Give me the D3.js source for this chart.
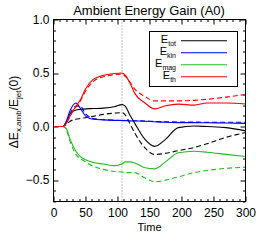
<!DOCTYPE html>
<html>
<head>
<meta charset="utf-8">
<script src="https://cdn.jsdelivr.net/npm/d3@7"></script>
<style>
  body { margin: 0; background: #fff; }
  svg { display: block; font-family: "Liberation Sans", Arial, sans-serif; }
</style>
</head>
<body>
<div id="chart"></div>
<script>
// time samples (shared by all curves)
const time = [0, 15, 20, 26, 35, 42, 50, 62, 78, 95, 107, 112, 120, 127, 143, 158, 175, 195, 220, 240, 270, 300];

const totSolid = [0, 0, 0.04, 0.12, 0.155, 0.16, 0.165, 0.168, 0.172, 0.185, 0.205, 0.19, 0.1, 0.03, -0.12, -0.185, -0.12, -0.01, 0.005, 0.0, -0.01, -0.04];
const totDash  = [0, 0, 0.02, 0.05, 0.068, 0.075, 0.083, 0.095, 0.114, 0.125, 0.13, 0.11, 0.02, -0.06, -0.2, -0.26, -0.25, -0.225, -0.195, -0.16, -0.1, -0.056];
const kinSolid = [0, 0, 0.05, 0.15, 0.22, 0.17, 0.1, 0.068, 0.062, 0.058, 0.056, 0.055, 0.053, 0.052, 0.05, 0.045, 0.04, 0.037, 0.037, 0.035, 0.033, 0.03];
const kinDash  = [0, 0, 0.04, 0.12, 0.19, 0.19, 0.12, 0.075, 0.065, 0.06, 0.058, 0.057, 0.055, 0.054, 0.052, 0.048, 0.045, 0.043, 0.042, 0.04, 0.04, 0.04];
const magSolid = [0, 0, -0.02, -0.12, -0.23, -0.28, -0.31, -0.335, -0.35, -0.365, -0.35, -0.33, -0.33, -0.34, -0.385, -0.395, -0.33, -0.245, -0.23, -0.24, -0.26, -0.28];
const magDash  = [0, 0, -0.03, -0.14, -0.26, -0.3, -0.33, -0.37, -0.4, -0.42, -0.425, -0.43, -0.43, -0.43, -0.48, -0.515, -0.5, -0.47, -0.43, -0.41, -0.39, -0.38];
const thSolid  = [0, 0, 0.03, 0.1, 0.19, 0.25, 0.35, 0.44, 0.48, 0.495, 0.5, 0.48, 0.4, 0.31, 0.22, 0.165, 0.195, 0.21, 0.2, 0.22, 0.22, 0.21];
const thDash   = [0, 0, 0.03, 0.1, 0.18, 0.24, 0.33, 0.42, 0.465, 0.485, 0.49, 0.47, 0.41, 0.35, 0.28, 0.24, 0.24, 0.24, 0.245, 0.255, 0.275, 0.3];

const legendNames = ['tot', 'kin', 'mag', 'th'];
const colors = ['#000000', '#0000ff', '#22bb22', '#ff0000'];
const xTicks = [0, 50, 100, 150, 200, 250, 300];
const yTicks = [-0.5, 0.0, 0.5, 1.0];
const markerTime = 107;

const width = 266, height = 247;
const margin = { top: 19.5, right: 20.5, bottom: 45.5, left: 53.5 };
const iw = width - margin.left - margin.right;
const ih = height - margin.top - margin.bottom;

const svg = d3.select('#chart').append('svg')
  .attr('width', width)
  .attr('height', height);

const g = svg.append('g').attr('transform', `translate(${margin.left},${margin.top})`);

const x = d3.scaleLinear().domain([0, 300]).range([0, iw]);
const y = d3.scaleLinear().domain([-0.7, 1.0]).range([ih, 0]);

// minor + major ticks on all four sides, pointing inward
const xMinor = d3.range(0, 301, 10);
const yMinor = d3.range(-0.7, 1.001, 0.1).map(v => +v.toFixed(2));
const isMajX = v => v % 50 === 0;
const isMajY = v => Math.abs(v * 2 - Math.round(v * 2)) < 1e-6;

const ticks = g.append('g').attr('stroke', '#000').attr('stroke-width', 1);
xMinor.forEach(v => {
  const len = isMajX(v) ? 5 : 2.5;
  const px = Math.round(x(v)) + 0.5;
  ticks.append('line').attr('x1', px).attr('x2', px).attr('y1', ih).attr('y2', ih - len);
  ticks.append('line').attr('x1', px).attr('x2', px).attr('y1', 0).attr('y2', len);
});
yMinor.forEach(v => {
  const len = isMajY(v) ? 5 : 2.5;
  const py = Math.round(y(v)) + 0.5;
  ticks.append('line').attr('y1', py).attr('y2', py).attr('x1', 0).attr('x2', len);
  ticks.append('line').attr('y1', py).attr('y2', py).attr('x1', iw).attr('x2', iw - len);
});

// tick labels through axes
const xAxis = g.append('g').attr('transform', `translate(0,${ih})`)
  .call(d3.axisBottom(x).tickValues(xTicks).tickSize(0).tickPadding(7).tickFormat(d3.format('d')));
const yAxis = g.append('g')
  .call(d3.axisLeft(y).tickValues(yTicks).tickSize(0).tickPadding(4).tickFormat(d => d3.format('.1f')(d)));
[xAxis, yAxis].forEach(a => {
  a.select('.domain').remove();
  a.selectAll('text').attr('font-size', 12).attr('fill', '#000').attr('font-family', '"Liberation Sans", Arial, sans-serif');
});

// dotted marker
g.append('line')
  .attr('x1', Math.round(x(markerTime)) + 0.5).attr('x2', Math.round(x(markerTime)) + 0.5)
  .attr('y1', 0).attr('y2', ih)
  .attr('stroke', '#888').attr('stroke-width', 1).attr('stroke-dasharray', '1,2');

// curves
const series = [
  { v: totSolid, c: colors[0], dash: null },
  { v: totDash, c: colors[0], dash: '5,3' },
  { v: kinSolid, c: colors[1], dash: null },
  { v: kinDash, c: colors[1], dash: '5,3' },
  { v: magSolid, c: colors[2], dash: null },
  { v: magDash, c: colors[2], dash: '5,3' },
  { v: thSolid, c: colors[3], dash: null },
  { v: thDash, c: colors[3], dash: '5,3' },
];
const line = d3.line().x((d, i) => x(time[i])).y(d => y(d)).curve(d3.curveMonotoneX);
svg.append('clipPath').attr('id', 'clip').append('rect').attr('width', iw).attr('height', ih);
const lines = g.append('g').attr('clip-path', 'url(#clip)');
series.forEach(s => {
  lines.append('path')
    .attr('d', line(s.v))
    .attr('fill', 'none')
    .attr('stroke', s.c)
    .attr('stroke-width', 1.1)
    .attr('stroke-dasharray', s.dash);
});

// frame
g.append('rect').attr('x', 0).attr('y', 0).attr('width', iw).attr('height', ih)
  .attr('fill', 'none').attr('stroke', '#000').attr('stroke-width', 1);

// legend
const lg = svg.append('g');
lg.append('rect').attr('x', 149.5).attr('y', 31.5).attr('width', 88).attr('height', 55)
  .attr('fill', '#fff').attr('stroke', '#000').attr('stroke-width', 1);
legendNames.forEach((n, i) => {
  const ly = 40.7 + i * 12;
  lg.append('line').attr('x1', 181).attr('x2', 227).attr('y1', ly).attr('y2', ly)
    .attr('stroke', colors[i]).attr('stroke-width', 1.1);
  const t = lg.append('text').attr('x', 176).attr('y', ly + 2.5)
    .attr('text-anchor', 'end').attr('font-size', 11).attr('fill', '#000');
  t.append('tspan').text('E');
  t.append('tspan').attr('font-size', 7).attr('dy', 2.5).text(n);
});

// title
svg.append('text').attr('x', 149).attr('y', 15).attr('text-anchor', 'middle')
  .attr('font-size', 13).attr('fill', '#000').text('Ambient Energy Gain (A0)');

// x label
svg.append('text').attr('x', margin.left + iw / 2).attr('y', 231).attr('text-anchor', 'middle')
  .attr('font-size', 11).attr('fill', '#000').text('Time');

// y label
const yl = svg.append('text').attr('transform', `translate(18,112) rotate(-90)`)
  .attr('text-anchor', 'middle').attr('font-size', 12).attr('fill', '#000');
yl.append('tspan').text('ΔE');
yl.append('tspan').attr('font-size', 8).attr('dy', 3).text('x,amb');
yl.append('tspan').attr('dy', -3).text('/E');
yl.append('tspan').attr('font-size', 8).attr('dy', 3).text('jet');
yl.append('tspan').attr('dy', -3).text('(0)');
</script>
</body>
</html>
